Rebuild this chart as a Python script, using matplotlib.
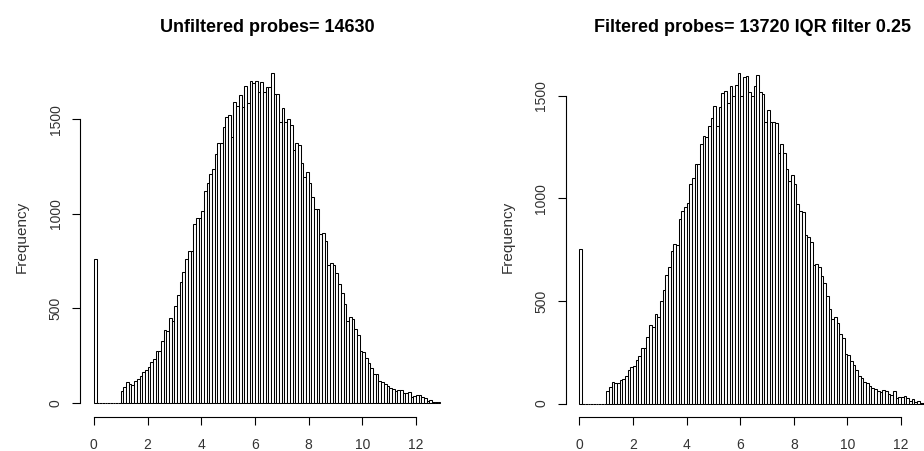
"""Two R-style histograms of probe intensities (unfiltered vs IQR-filtered)."""

import matplotlib
matplotlib.use("Agg")
import matplotlib.pyplot as plt
import numpy as np

plt.rcParams["font.family"] = ["Liberation Sans", "DejaVu Sans"]

bin_width = 0.1

# counts per 0.1-wide bin, starting at 0.0
unfiltered_counts = [
    758, 0, 0, 0, 0, 0, 0, 0, 0, 0,
    60, 81, 109, 100, 93, 113, 123, 141, 162, 173,
    190, 215, 231, 273, 273, 326, 384, 379, 449, 432,
    513, 571, 640, 689, 758, 804, 804, 943, 978, 978,
    1015, 1121, 1160, 1211, 1234, 1317, 1375, 1375, 1456, 1512,
    1519, 1406, 1591, 1569, 1625, 1565, 1674, 1583, 1703, 1692,
    1699, 1644, 1697, 1644, 1671, 1671, 1745, 1632, 1632, 1486,
    1556, 1486, 1503, 1468, 1336, 1375, 1362, 1269, 1191, 1221,
    1160, 1089, 1027, 1027, 892, 895, 855, 728, 740, 728,
    684, 627, 578, 522, 430, 451, 444, 388, 356, 271,
    268, 234, 211, 182, 152, 152, 116, 109, 97, 88,
    76, 70, 63, 67, 67, 49, 49, 58, 32, 35,
    39, 41, 32, 25, 11, 12, 4, 2, 2,
]

filtered_counts = [
    756, 0, 0, 0, 0, 0, 0, 0, 0, 0,
    62, 81, 106, 102, 98, 115, 122, 133, 163, 177,
    184, 213, 233, 273, 273, 325, 384, 371, 436, 423,
    501, 554, 628, 668, 745, 776, 772, 902, 940, 956,
    976, 1073, 1102, 1166, 1169, 1265, 1307, 1301, 1354, 1392,
    1452, 1354, 1447, 1512, 1522, 1468, 1550, 1502, 1555, 1611,
    1501, 1593, 1597, 1517, 1501, 1550, 1602, 1517, 1509, 1371,
    1431, 1371, 1371, 1366, 1220, 1268, 1224, 1143, 1083, 1115,
    1070, 972, 940, 932, 821, 810, 789, 676, 680, 667,
    623, 590, 525, 460, 411, 420, 395, 341, 322, 244,
    237, 208, 189, 164, 135, 127, 107, 101, 85, 75,
    70, 62, 55, 65, 59, 46, 42, 59, 29, 33,
    33, 37, 26, 13, 21, 10, 13, 2, 2,
]

titles = ["Unfiltered probes= 14630", "Filtered probes= 13720 IQR filter 0.25"]
x_ticks = [0, 2, 4, 6, 8, 10, 12]
y_ticks = [0, 500, 1000, 1500]


def r_hist(ax, counts, ylim, title):
    counts = np.array(counts)
    left = np.arange(len(counts)) * bin_width
    ax.bar(left, counts, width=bin_width, align="edge", color="white",
           edgecolor="black", linewidth=0.75)
    ax.set_xlim(-0.516, 13.416)
    ax.set_ylim(*ylim)
    for s in ("top", "right"):
        ax.spines[s].set_visible(False)
    ax.spines["left"].set_bounds(y_ticks[0], y_ticks[-1])
    ax.spines["bottom"].set_bounds(x_ticks[0], x_ticks[-1])
    for s in ("left", "bottom"):
        ax.spines[s].set_linewidth(0.8)
    ax.set_xticks(x_ticks)
    ax.set_yticks(y_ticks)
    ax.tick_params(direction="out", length=5.5, width=0.8, labelsize=10,
                   color="black", labelcolor="#333333")
    ax.tick_params(axis="x", pad=10)
    ax.tick_params(axis="y", pad=7, labelrotation=90)
    for lab in ax.get_yticklabels():
        lab.set_va("center")
    ax.set_ylabel("Frequency", fontsize=11, color="#333333")
    ax.yaxis.set_label_coords(-0.136, 0.5)
    ax.text(0.5, 1.085, title, transform=ax.transAxes, ha="center",
            va="center", fontsize=13, fontweight="bold")


fig = plt.figure(figsize=(9.24, 4.51), dpi=100)
ax1 = fig.add_axes([0.0866, 0.0761, 0.4048, 0.7953])
ax2 = fig.add_axes([0.6122, 0.0761, 0.4039, 0.7953])

r_hist(ax1, unfiltered_counts, (-74, 1823), titles[0])
r_hist(ax2, filtered_counts, (-64, 1685), titles[1])

fig.savefig("out.png", dpi=100)
